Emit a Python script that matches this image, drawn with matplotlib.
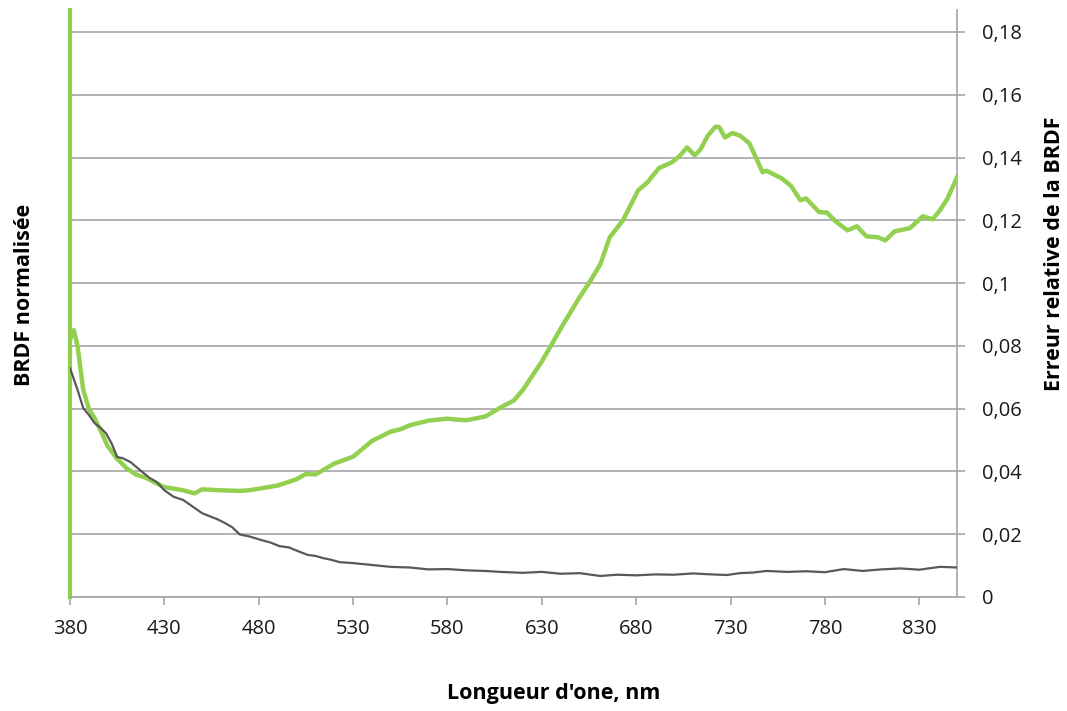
import numpy as np
import matplotlib
matplotlib.use('Agg')
import matplotlib.pyplot as plt
from matplotlib.ticker import FuncFormatter

# erreur relative (courbe verte)
errNm = [380, 382, 384, 387, 390, 393, 397, 400, 405, 410, 415, 420, 425, 430, 435, 440, 446,
         450, 460, 470, 475, 480, 490, 500, 505, 510, 520, 525, 530, 540, 550, 555, 560, 570,
         580, 585, 590, 600, 610, 615, 620, 625, 630, 640, 650, 655, 661, 666, 673, 681, 686,
         692, 699, 703, 707, 711, 714, 718, 722, 724, 727, 731, 735, 740, 747, 749, 757, 762,
         767, 770, 777, 781, 786, 792, 797, 802, 808, 812, 817, 825, 832, 837, 841, 845, 850]
errVal = [0.082, 0.085, 0.080, 0.066, 0.060, 0.057, 0.052, 0.048, 0.044, 0.041, 0.039, 0.038,
          0.0365, 0.035, 0.0345, 0.034, 0.033, 0.0343, 0.034, 0.0338, 0.034, 0.0345, 0.0355,
          0.0375, 0.0392, 0.039, 0.0425, 0.0436, 0.0447, 0.0497, 0.0527, 0.0534, 0.0547, 0.0562,
          0.0568, 0.0565, 0.0563, 0.0575, 0.061, 0.0625, 0.066, 0.0705, 0.075, 0.0855, 0.0955,
          0.1, 0.106, 0.1146, 0.120, 0.1295, 0.1321, 0.1366, 0.1385, 0.1405, 0.1432, 0.1407,
          0.1425, 0.147, 0.1498, 0.1497, 0.1464, 0.1478, 0.147, 0.1445, 0.1353, 0.1358, 0.1334,
          0.131, 0.1264, 0.127, 0.1226, 0.1225, 0.1195, 0.1168, 0.1181, 0.1149, 0.1146, 0.1136,
          0.1165, 0.1175, 0.1213, 0.1203, 0.1232, 0.127, 0.1337]

# BRDF normalisée (courbe grise)
brdfNm = [380, 384, 387, 390, 393, 396, 399, 402, 405, 408, 412, 415, 419, 422, 426, 430, 435,
          440, 445, 450, 455, 458, 462, 466, 470, 475, 481, 486, 491, 496, 500, 506, 510, 514,
          518, 523, 530, 540, 550, 560, 570, 580, 590, 600, 608, 620, 630, 640, 650, 661, 670,
          680, 690, 700, 710, 720, 728, 735, 742, 749, 760, 770, 780, 790, 800, 810, 820, 830,
          841, 850]
brdfVal = [0.0729, 0.066, 0.0602, 0.058, 0.0554, 0.054, 0.0522, 0.049, 0.0446, 0.0442, 0.043,
           0.0415, 0.0395, 0.038, 0.0366, 0.034, 0.0319, 0.0309, 0.0288, 0.0267, 0.0255, 0.0248,
           0.0236, 0.0222, 0.0199, 0.0193, 0.0182, 0.0174, 0.0162, 0.0158, 0.0148, 0.0134, 0.0131,
           0.0124, 0.0119, 0.0111, 0.0108, 0.0102, 0.0096, 0.0094, 0.0088, 0.0089, 0.0085, 0.0083,
           0.008, 0.0077, 0.008, 0.0074, 0.0076, 0.0067, 0.0071, 0.0069, 0.0072, 0.0071, 0.0075,
           0.0072, 0.007, 0.0076, 0.0078, 0.0083, 0.008, 0.0082, 0.0079, 0.0089, 0.0083, 0.0088,
           0.0091, 0.0087, 0.0096, 0.0094]

xTicks = [380, 430, 480, 530, 580, 630, 680, 730, 780, 830]
yTicks = [0, 0.02, 0.04, 0.06, 0.08, 0.1, 0.12, 0.14, 0.16, 0.18]

green = '#92d050'
grey = '#595959'
axisGrey = '#a6a6a6'

plt.rcParams['font.family'] = ['Open Sans', 'DejaVu Sans']

fig = plt.figure(figsize=(10.67, 7.11), dpi=100)
ax = fig.add_axes([70 / 1067, 114 / 711, 887 / 1067, 587 / 711])

ax.plot(errNm, errVal, color=green, linewidth=3.2, solid_joinstyle='round', zorder=3)
ax.plot(brdfNm, brdfVal, color=grey, linewidth=1.6, zorder=4)

ax.set_xlim(380, 850)
ax.set_ylim(0, 0.187)
ax.set_xticks(xTicks)
ax.set_yticks(yTicks)
ax.yaxis.tick_right()
ax.yaxis.set_major_formatter(FuncFormatter(lambda v, p: ('%g' % round(v, 2)).replace('.', ',')))
ax.grid(axis='y', color=axisGrey, linewidth=1.2)
ax.set_axisbelow(True)

ax.tick_params(axis='both', direction='out', length=6, width=1.2, color=axisGrey,
               labelsize=14.5, labelcolor='#1a1a1a', pad=10)
ax.tick_params(axis='y', pad=12)

ax.spines['top'].set_visible(False)
ax.spines['bottom'].set_color(axisGrey)
ax.spines['right'].set_color(axisGrey)
ax.spines['bottom'].set_linewidth(1.2)
ax.spines['right'].set_linewidth(1.2)
ax.spines['left'].set_color(green)
ax.spines['left'].set_linewidth(3)

fig.text(554 / 1067, 18 / 711, "Longueur d'one, nm", ha='center', va='center',
         fontsize=15.5, fontweight='bold', color='black')
fig.text(25 / 1067, 1 - 295 / 711, 'BRDF normalisée', ha='center', va='center',
         rotation=90, fontsize=15.5, fontweight='bold', color='black')
fig.text(1054 / 1067, 1 - 254 / 711, 'Erreur relative de la BRDF', ha='center', va='center',
         rotation=90, fontsize=15.5, fontweight='bold', color='black')

fig.savefig('out.png', dpi=100)
